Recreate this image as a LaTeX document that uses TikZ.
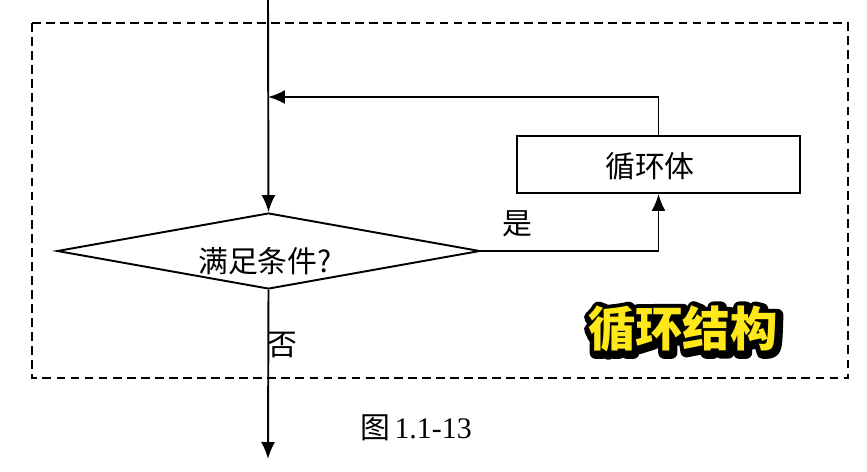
\documentclass[tikz,border=0pt]{standalone}
\usepackage{fontspec}
\setmainfont{Liberation Serif}
\newfontfamily\cjk{Noto Sans CJK SC}
\usetikzlibrary{shapes.geometric,arrows.meta,calc}
\definecolor{titleyellow}{HTML}{FFE81A}
\tikzset{
  flow/.style={line width=1.1pt, draw=black},
  arr/.style={flow, -{Latex[length=0.34cm,width=0.28cm]}},
  frame/.style={line width=1.1pt, dash pattern=on 5pt off 3pt},
  lbl/.style={font=\cjk\fontsize{17}{19}\selectfont, inner sep=0pt},
  decision/.style={diamond, flow, minimum width=8.46cm, minimum height=1.52cm, inner sep=0pt},
  process/.style={rectangle, flow, minimum width=5.66cm, minimum height=1.14cm, inner sep=0pt},
  titlefont/.style={font=\cjk\bfseries\fontsize{27}{29}\selectfont, inner sep=0pt}
}
\begin{document}
\begin{tikzpicture}[x=0.02cm,y=-0.02cm]
\useasboundingbox (0,0) rectangle (867,471);
\fill[white] (0,0) rectangle (867,471);
% dashed frame
\draw[frame] (32,23) rectangle (848,378);
% nodes
\coordinate (top) at (268,0);
\coordinate (join) at (268,97);
\coordinate (bottom) at (268,459);
\node[decision] (cond) at (268.5,251) {};
\node[lbl] (condtext) at (265,261) {满足条件?};
\node[process] (body) at (658.5,164.5) {};
\node[lbl] (bodytext) at (650,166) {循环体};
\node[lbl] (yes) at (517,224) {是};
\node[lbl] (no) at (282,345) {否};
\node[inner sep=0pt] (cap) at (416,428) {{\cjk\fontsize{17}{19}\selectfont 图} {\fontsize{17}{19}\selectfont 1.1-13}};
% connectors
\draw[arr] (top) -- (cond.north);
\draw[arr] (body.north) |- (join);
\draw[arr] (cond.east) -| (body.south);
\draw[arr] (cond.south) -- (bottom);
% title with outline (stroked black copy under a yellow fill)
\node[titlefont, text=black] (titleoutline) at (684.5,330.5) {\special{pdf:literal direct 1 j 7 w 2 Tr}循环结构\special{pdf:literal direct 0 Tr 0.4 w 0 j}};
\node[titlefont, text=titleyellow] (title) at (683,329) {循环结构};
\end{tikzpicture}
\end{document}
